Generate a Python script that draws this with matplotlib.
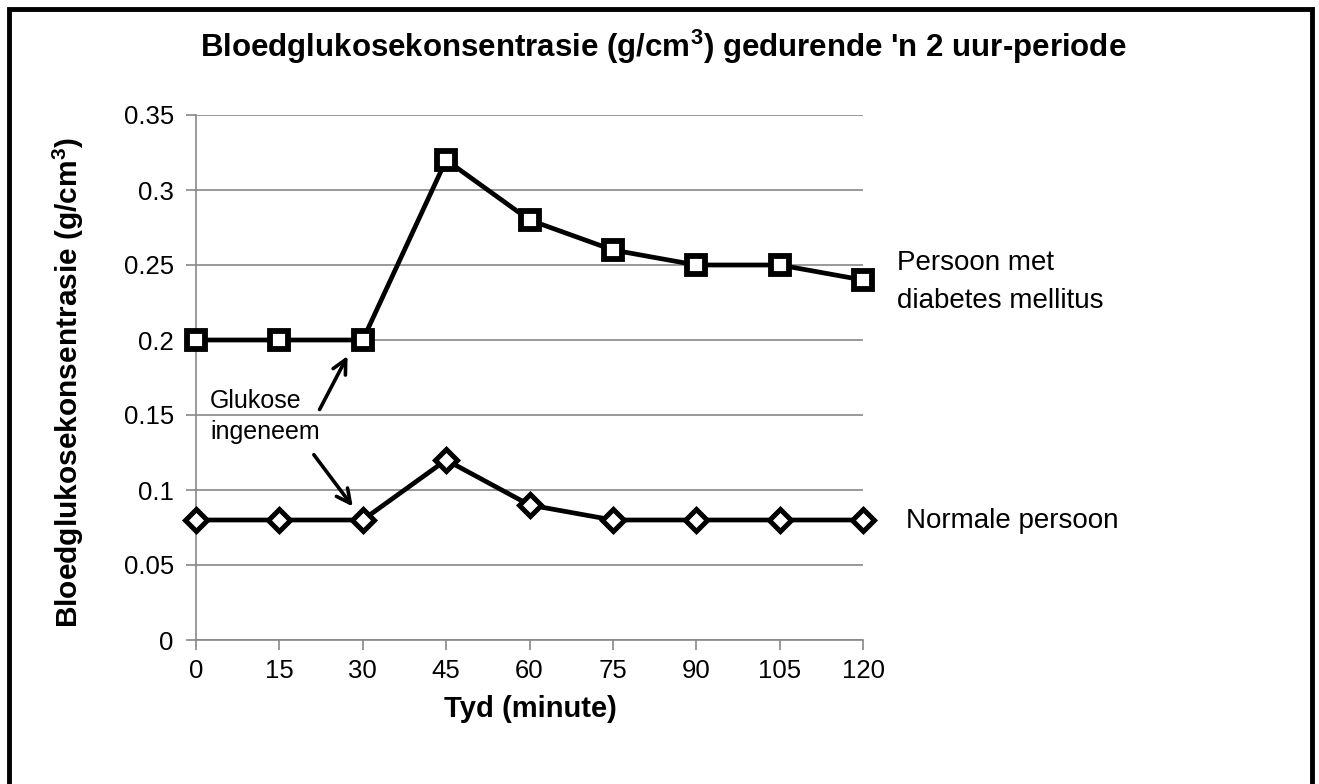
import numpy as np
import matplotlib
matplotlib.use('Agg')
import matplotlib.pyplot as plt
from matplotlib.patches import Rectangle

plt.rcParams['font.family'] = ['Liberation Sans', 'DejaVu Sans']
plt.rcParams['mathtext.fontset'] = 'custom'
plt.rcParams['mathtext.rm'] = 'Liberation Sans'
plt.rcParams['mathtext.bf'] = 'Liberation Sans:bold'

# data
tyd = [0, 15, 30, 45, 60, 75, 90, 105, 120]
diabetes = [0.2, 0.2, 0.2, 0.32, 0.28, 0.26, 0.25, 0.25, 0.24]
normaal = [0.08, 0.08, 0.08, 0.12, 0.09, 0.08, 0.08, 0.08, 0.08]
y_ticks = [0, 0.05, 0.1, 0.15, 0.2, 0.25, 0.3, 0.35]
y_labels = ['0', '0.05', '0.1', '0.15', '0.2', '0.25', '0.3', '0.35']

W, H = 1319, 784
fig = plt.figure(figsize=(W / 100, H / 100), dpi=100)
ax = fig.add_axes([196 / W, 1 - 640 / H, (863 - 196) / W, (640 - 115) / H])

grijs = '#888888'
ax.set_xlim(0, 120)
ax.set_ylim(0, 0.35)
ax.set_xticks(tyd)
ax.set_yticks(y_ticks)
ax.set_yticklabels(y_labels)
ax.yaxis.grid(True, color=grijs, linewidth=1.2)
ax.set_axisbelow(True)
for s in ['top', 'right']:
    ax.spines[s].set_visible(False)
for s in ['left', 'bottom']:
    ax.spines[s].set_color(grijs)
    ax.spines[s].set_linewidth(1.2)
ax.tick_params(axis='both', colors=grijs, labelcolor='black', labelsize=18.5,
               length=7, width=1.2)
ax.tick_params(axis='y', pad=9)
ax.tick_params(axis='x', pad=7)

ax.plot(tyd, diabetes, color='black', linewidth=3.4, marker='s', markersize=13.5,
        markerfacecolor='white', markeredgecolor='black', markeredgewidth=4.2,
        clip_on=False, zorder=5)
ax.plot(tyd, normaal, color='black', linewidth=3.4, marker='D', markersize=11.5,
        markerfacecolor='white', markeredgecolor='black', markeredgewidth=3.6,
        clip_on=False, zorder=5)

# annotasies
ax.text(2.5, 0.149, 'Glukose\ningeneem', fontsize=18, ha='left', va='center',
        linespacing=1.35)
ax.annotate('', xy=(27.5, 0.191), xytext=(22.0, 0.152),
            arrowprops=dict(arrowstyle='->', color='black', lw=2.6,
                            mutation_scale=25))
ax.annotate('', xy=(28.5, 0.0875), xytext=(20.9, 0.125),
            arrowprops=dict(arrowstyle='->', color='black', lw=2.6,
                            mutation_scale=25))

fig.text(897 / W, 1 - 282 / H, 'Persoon met\ndiabetes mellitus', fontsize=20,
         ha='left', va='center', linespacing=1.6)
fig.text(906 / W, 1 - 521 / H, 'Normale persoon', fontsize=20,
         ha='left', va='center')

fig.text(663 / W, 1 - 47 / H,
         r"Bloedglukosekonsentrasie (g/cm$^\mathbf{3}$) gedurende 'n 2 uur-periode",
         fontsize=22.5, fontweight='bold', ha='center', va='center')
fig.text(530 / W, 1 - 709 / H, 'Tyd (minute)', fontsize=21, fontweight='bold',
         ha='center', va='center')
fig.text(68 / W, 1 - 382 / H, r'Bloedglukosekonsentrasie (g/cm$^\mathbf{3}$)',
         fontsize=21.5, fontweight='bold', ha='center', va='center', rotation=90)

# raam om die figuur
fig.patches.append(Rectangle((9 / W, -0.01), (1312 - 9) / W, 1 - 9 / H + 0.01,
                             transform=fig.transFigure, fill=False,
                             edgecolor='black', linewidth=3.5))

fig.savefig('out.png', dpi=100)
